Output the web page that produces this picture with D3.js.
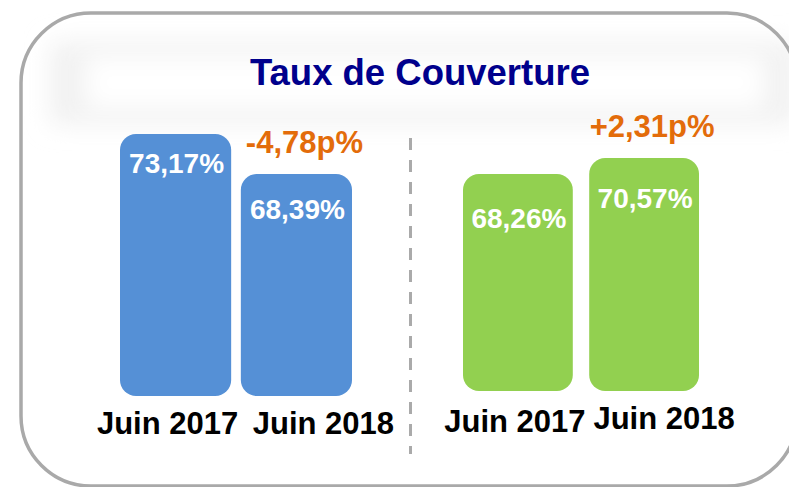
<!DOCTYPE html>
<html>
<head>
<meta charset="utf-8">
<script src="https://cdn.jsdelivr.net/npm/d3@7"></script>
<style>
  body { margin: 0; background: #fff; }
  text { font-family: "Liberation Sans", Arial, sans-serif; font-weight: bold; }
</style>
</head>
<body>
<div id="chart"></div>
<script>
// data
var categories = ["Juin 2017", "Juin 2018"];
var leftValues = [73.17, 68.39];
var rightValues = [68.26, 70.57];
var leftDelta = "-4,78p%";
var rightDelta = "+2,31p%";
var title = "Taux de Couverture";

var width = 789, height = 487;

var fmt = function(v) { return v.toFixed(2).replace(".", ",") + "%"; };

var svg = d3.select("#chart")
  .append("svg")
  .attr("width", width)
  .attr("height", height);

// soft shadow behind title
var defs = svg.append("defs");
defs.append("filter")
  .attr("id", "blur")
  .attr("x", "-20%").attr("y", "-60%")
  .attr("width", "140%").attr("height", "220%")
  .append("feGaussianBlur")
  .attr("stdDeviation", 12);

svg.append("rect")
  .attr("x", 50).attr("y", 42)
  .attr("width", 745).attr("height", 82)
  .attr("fill", "#f1f1f1")
  .attr("filter", "url(#blur)");

svg.append("rect")
  .attr("x", 85).attr("y", 55)
  .attr("width", 680).attr("height", 55)
  .attr("fill", "#fff")
  .attr("filter", "url(#blur)");

// frame
svg.append("rect")
  .attr("x", 21).attr("y", 13)
  .attr("width", 776).attr("height", 473)
  .attr("rx", 70).attr("ry", 70)
  .attr("fill", "none")
  .attr("stroke", "#a9a9a9")
  .attr("stroke-width", 3.5);

svg.append("text")
  .attr("x", 420)
  .attr("y", 85)
  .attr("text-anchor", "middle")
  .style("font-size", "36.5px")
  .style("fill", "#00008c")
  .text(title);

// separator
svg.append("line")
  .attr("x1", 410.5).attr("x2", 410.5)
  .attr("y1", 138).attr("y2", 454)
  .attr("stroke", "#aaaaaa")
  .attr("stroke-width", 3)
  .attr("stroke-dasharray", "12,10");

var groups = [
  { values: leftValues, delta: leftDelta, color: "#5590d6",
    xRange: [120, 352], pad: 0.08, yDomain: [41.87, 73.17], yRange: [396, 134],
    valueDy: [39, 45], labelDx: [-8, 27], labelY: [434, 434] },
  { values: rightValues, delta: rightDelta, color: "#92d050",
    xRange: [463, 699], pad: 0.13, yDomain: [36.95, 70.57], yRange: [391, 158],
    valueDy: [54, 50], labelDx: [-3, 20], labelY: [432, 429] }
];

groups.forEach(function(g) {
  var x = d3.scaleBand()
    .domain(categories)
    .range(g.xRange)
    .paddingInner(g.pad);

  var y = d3.scaleLinear()
    .domain(g.yDomain)
    .range(g.yRange);

  var rows = categories.map(function(c, i) { return { cat: c, value: g.values[i], i: i }; });
  var gg = svg.append("g");

  gg.selectAll(".bar")
    .data(rows)
    .enter()
    .append("rect")
    .attr("class", "bar")
    .attr("x", d => x(d.cat))
    .attr("y", d => y(d.value))
    .attr("width", x.bandwidth())
    .attr("height", d => y.range()[0] - y(d.value))
    .attr("rx", 16).attr("ry", 16)
    .attr("fill", g.color);

  gg.selectAll(".val")
    .data(rows)
    .enter()
    .append("text")
    .attr("class", "val")
    .attr("x", d => x(d.cat) + x.bandwidth() / 2 + 1)
    .attr("y", d => y(d.value) + g.valueDy[d.i])
    .attr("text-anchor", "middle")
    .style("font-size", "28px")
    .style("fill", "#fff")
    .text(d => fmt(d.value));

  gg.selectAll(".cat")
    .data(rows)
    .enter()
    .append("text")
    .attr("class", "cat")
    .attr("x", d => x(d.cat) + x.bandwidth() / 2 + g.labelDx[d.i])
    .attr("y", d => g.labelY[d.i])
    .attr("text-anchor", "middle")
    .style("font-size", "31px")
    .style("fill", "#000")
    .text(d => d.cat);

  // delta above the second bar
  var last = rows[rows.length - 1];
  gg.append("text")
    .attr("x", x(last.cat) + x.bandwidth() / 2 + 8)
    .attr("y", y(last.value) - 21)
    .attr("text-anchor", "middle")
    .style("font-size", "31px")
    .style("fill", "#e36c0a")
    .text(g.delta);
});
</script>
</body>
</html>
